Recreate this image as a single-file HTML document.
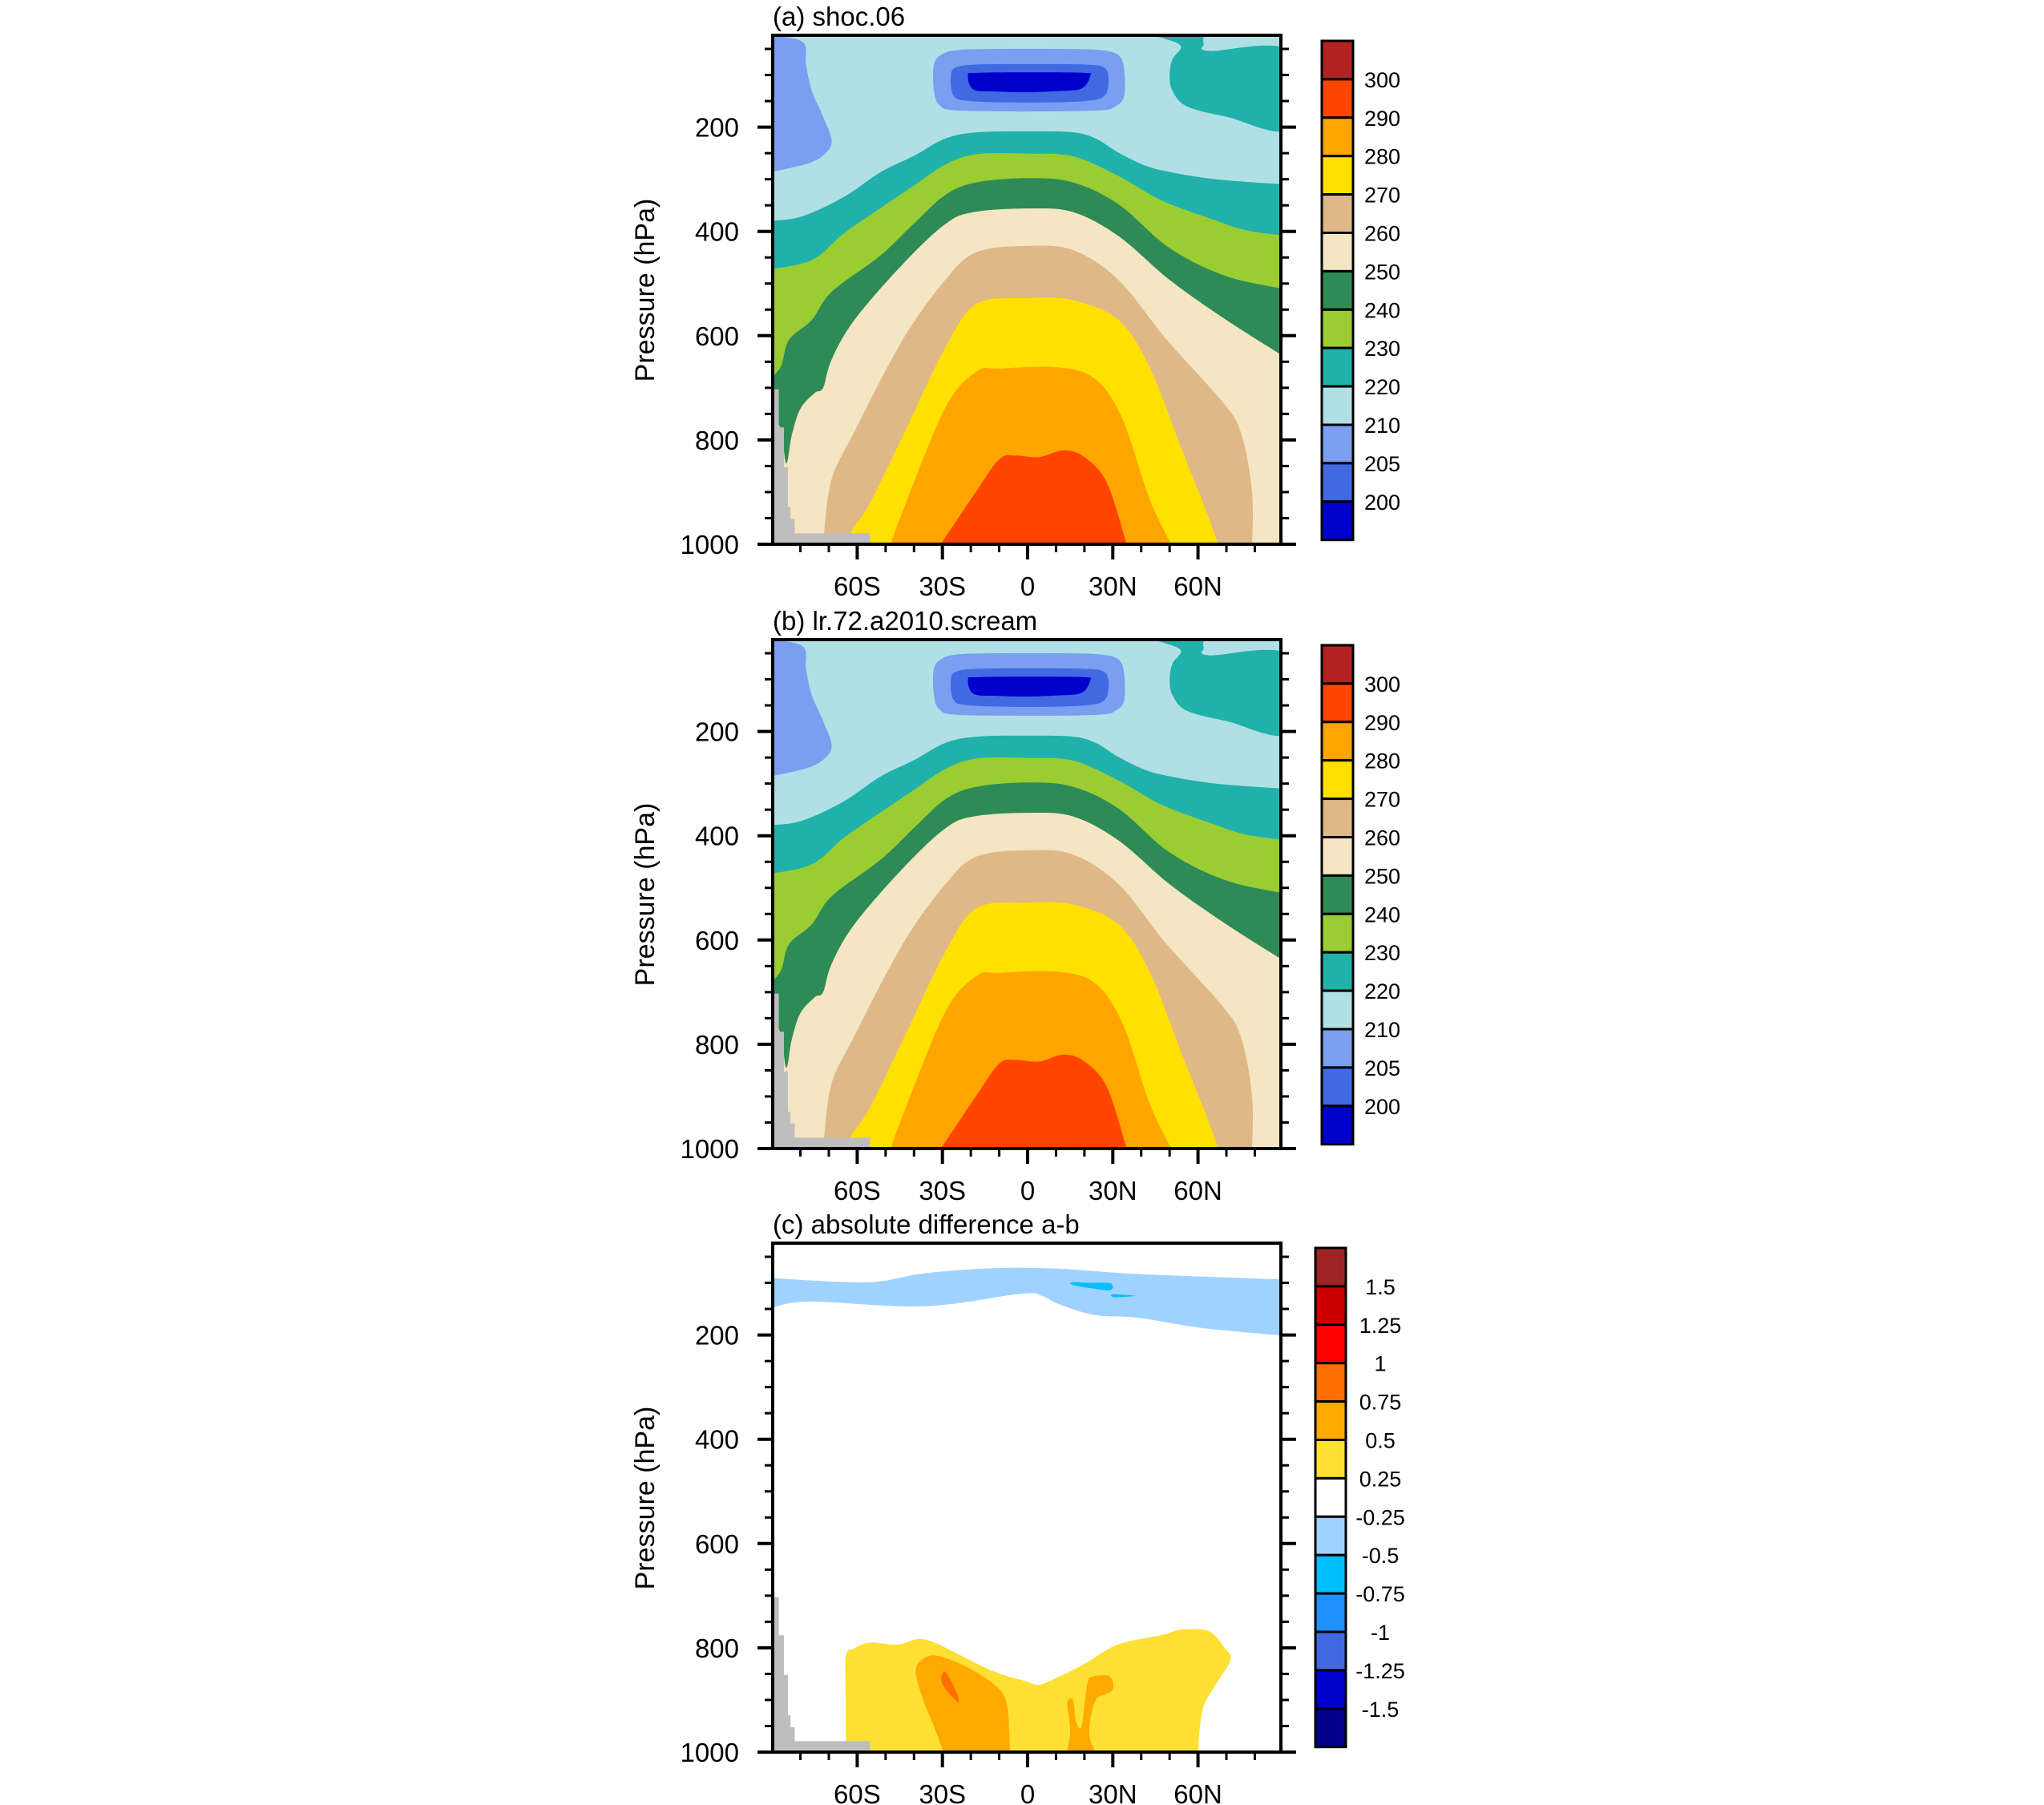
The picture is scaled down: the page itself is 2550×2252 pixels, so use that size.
<!DOCTYPE html>
<html><head><meta charset="utf-8"><style>
html,body{margin:0;padding:0;background:#fff;}
svg{display:block;font-family:"Liberation Sans",sans-serif;}
</style></head><body>
<svg id="fig" xmlns="http://www.w3.org/2000/svg" width="2550" height="2252" viewBox="0 0 2550 2252"></svg>
<script>
// ---- data (lat, pressure hPa) ----
const panelTitles = ["(a) shoc.06", "(b) lr.72.a2010.scream", "(c) absolute difference a-b"];
const yTicks = [200, 400, 600, 800, 1000];
const xTicks = [-60, -30, 0, 30, 60];
const xTickLabels = ["60S", "30S", "0", "30N", "60N"];
const tLevelsColors = ["#B22222","#FF4500","#FFA500","#FFE000","#DEB887","#F5E6C3","#2E8B57","#9ACD32","#20B2AA","#B0E0E6","#7B9EF0","#4169E1","#0000CD"];
const tLevelLabels = ["300","290","280","270","260","250","240","230","220","210","205","200"];
const dColors = ["#9E2424","#CC0000","#FF0000","#FF6E00","#FFAA00","#FDE033","#FFFFFF","#A0D2FF","#00BFFF","#1E90FF","#4169E1","#0000CD","#00008B"];
const dLabels = ["1.5","1.25","1","0.75","0.5","0.25","-0.25","-0.5","-0.75","-1","-1.25","-1.5"];

const region205L = [[-92,25],[-85,27],[-78.6,40],[-78,80],[-76,130],[-72,180],[-69,226],[-71.5,252],[-78,271],[-92,288]];
const region220R = [[41,22],[48,30],[54,45],[51,70],[50,100],[51,130],[56,160],[70,180],[92,202],[92,54],[64,54],[62,40],[62,22]];
const blob205 = [[-33,80],[-30,60],[-24,52],[-10,50],[10,50],[25,52],[32,62],[34,90],[34,140],[31,160],[25,168],[0,170],[-25,168],[-31,158],[-33,130]];
const blob200 = [[-27,100],[-25,85],[-18,80],[0,79],[20,80],[27,86],[28.5,110],[27,140],[20,150],[0,153],[-20,150],[-26,140]];
const blobCore = [[-21,100],[-18,96],[0,95],[20,96],[22,102],[19,126],[10,131],[0,133],[-10,132],[-19,128]];
const L220 = [[-92,380],[-80,372],[-65,335],[-52,287],[-40,255],[-29,222],[-18,210],[0,208],[16,210],[24,222],[32,249],[42,275],[51,287],[62,297],[70,302],[80,306],[92,310]];
const L230 = [[-92,474],[-76,455],[-65,405],[-52,356],[-40,312],[-29,272],[-18,252],[0,251],[16,256],[32,294],[47,340],[64,375],[77,398],[92,409]];
const L240 = [[-92,690],[-87,660],[-84,608],[-76,570],[-69,516],[-52,447],[-40,385],[-29,330],[-18,306],[0,298],[16,306],[32,348],[50,432],[70,486],[92,512]];
const L250 = [[-92,720],[-87,780],[-85,845],[-83,790],[-80,740],[-75,710],[-72,700],[-69,646],[-61,570],[-44,463],[-29,386],[-19,363],[0,356],[16,363],[32,409],[50,493],[70,570],[92,646]];
const L260 = [[-72,1010],[-71.6,975],[-69,875],[-61,784],[-44,608],[-29,493],[-18,440],[0,428],[16,436],[32,493],[49,608],[68,723],[75,784],[79,898],[79,1010]];
const L270 = [[-63,1010],[-62,975],[-55.5,921],[-42,770],[-29,623],[-18,539],[0,528],[16,532],[32,570],[43,661],[54,814],[64,952],[67.6,1010]];
const L280 = [[-48.8,1010],[-44,937],[-29,738],[-18,669],[-10,663],[11,661],[24,684],[33.5,761],[43,914],[51.5,1010]];
const L290 = [[-31.8,1010],[-18,898],[-10,837],[-4.4,830],[4,833],[12.7,820],[20,833],[28,883],[35.4,1010]];
const topoLat = [-90,-87.6,-85.8,-84.4,-83.5,-82,-55.5];
const topoP = [703,776,852,929,952,979];

const dBandTop = [[-92,90],[-57,99],[-36.5,82],[-12,72],[11,73],[39,83],[92,94]];
const dBandBot = [[92,202],[62,187],[39,167],[24,162],[11,141],[5,125],[-2.5,121],[-36.5,145],[-78,136],[-92,153]];
const dCyan1 = [[15.5,99],[22,100],[29.3,101],[29,114],[22,110],[16,104]];
const dCyan2 = [[29.7,122],[34,123],[38,125],[34,127],[30,127]];
const dYellow = [[-64,1010],[-64,900],[-64,816],[-61,801],[-55.5,790],[-46,794],[-38.4,783],[-32.7,790],[-27,805],[-12,845],[-0.6,864],[4,871],[10.8,856],[20.3,830],[31.6,794],[46.8,776],[54.3,765],[63.8,768],[69.5,801],[71.4,824],[65.7,875],[62,912],[60.5,960],[60,1010]];
const dOrange1 = [[-29,1010],[-33,950],[-36.5,904],[-39.4,845],[-36.5,820],[-31,816],[-19.5,842],[-10,879],[-7.2,912],[-6.5,960],[-6.2,1010]];
const dOrange2 = [[13.5,1010],[15,960],[14,905],[16,900],[17,940],[19,950],[21,870],[23,855],[29,855],[30,880],[27,890],[24,900],[22,940],[22,975],[25,1010]];
const dDarkOrange = [[-30,849],[-28.5,849],[-25,886],[-24.2,904],[-25.5,900],[-30,870]];

// ---- geometry ----
const NS = "http://www.w3.org/2000/svg";
const svg = document.getElementById("fig");
const panelOffsets = [0, 754, 1507];
const PL = 964, PR = 1598, PT = 44, PB = 679;
function X(lat){ return 1282 + lat * 3.543; }
function Y(p, off){ return off + 679 - (1000 - p) * 0.6505; }
function mk(tag, attrs, parent){
  const e = document.createElementNS(NS, tag);
  for (const k in attrs) e.setAttribute(k, attrs[k]);
  (parent || svg).appendChild(e);
  return e;
}
function toXY(arr, off){ return arr.map(a => [X(a[0]), Y(a[1], off)]); }
function smoothPath(P, closed){
  const n = P.length;
  const get = i => closed ? P[(i + n) % n] : P[Math.max(0, Math.min(n - 1, i))];
  let d = "M" + P[0][0].toFixed(1) + "," + P[0][1].toFixed(1);
  const last = closed ? n : n - 1;
  for (let i = 0; i < last; i++){
    const p0 = get(i - 1), p1 = get(i), p2 = get(i + 1), p3 = get(i + 2);
    const c1 = [p1[0] + (p2[0] - p0[0]) / 6, p1[1] + (p2[1] - p0[1]) / 6];
    const c2 = [p2[0] - (p3[0] - p1[0]) / 6, p2[1] - (p3[1] - p1[1]) / 6];
    d += " C" + c1[0].toFixed(1) + "," + c1[1].toFixed(1) + " " + c2[0].toFixed(1) + "," + c2[1].toFixed(1) + " " + p2[0].toFixed(1) + "," + p2[1].toFixed(1);
  }
  return d;
}
function fillBelow(curve, off, color, g, name){
  let d = smoothPath(toXY(curve, off), false);
  d += " L" + X(95) + "," + Y(1020, off) + " L" + X(-95) + "," + Y(1020, off) + " Z";
  const e = mk("path", {d: d, fill: color}, g);
  
  
}
function poly(arr, off, color, g, name){
  const e = mk("path", {d: smoothPath(toXY(arr, off), true) + " Z", fill: color}, g);
  
  
}
function polyOpen(arr, off, color, g, name){
  const e = mk("path", {d: smoothPath(toXY(arr, off), false) + " Z", fill: color}, g);
  
  
}
function topo(off, g){
  let d = "M" + X(-95) + "," + Y(1010, off);
  for (let i = 0; i < topoP.length; i++){
    const x0 = i === 0 ? X(-95) : X(topoLat[i]);
    d += " L" + x0 + "," + Y(topoP[i], off) + " L" + X(topoLat[i+1]) + "," + Y(topoP[i], off);
  }
  d += " L" + X(topoLat[topoLat.length-1]) + "," + Y(1010, off) + " Z";
  const e = mk("path", {d: d, fill: "#BEBEBE"}, g);
  
  
}

panelOffsets.forEach((off, pi) => {
  const cp = mk("clipPath", {id: "clip" + pi});
  mk("rect", {x: PL, y: off + PT, width: PR - PL, height: PB - PT}, cp);
  const g = mk("g", {"clip-path": "url(#clip" + pi + ")"});
  
  
  if (pi < 2){
    mk("rect", {x: PL, y: off + PT, width: PR - PL, height: PB - PT, fill: "#B0E0E6"}, g);
    polyOpen(region205L, off, "#7B9EF0", g, 'region-205-south');
    polyOpen(region220R, off, "#20B2AA", g, 'region-220-north');
    poly(blob205, off, "#7B9EF0", g, 'cold-core-205');
    poly(blob200, off, "#4169E1", g, 'cold-core-200');
    poly(blobCore, off, "#0000CD", g, 'cold-core-min');
    fillBelow(L220, off, "#20B2AA", g, 'band-220');
    fillBelow(L230, off, "#9ACD32", g, 'band-230');
    fillBelow(L240, off, "#2E8B57", g, 'band-240');
    fillBelow(L250, off, "#F5E6C3", g, 'band-250');
    fillBelow(L260, off, "#DEB887", g, 'band-260');
    fillBelow(L270, off, "#FFE000", g, 'band-270');
    fillBelow(L280, off, "#FFA500", g, 'band-280');
    fillBelow(L290, off, "#FF4500", g, 'band-290');
  } else {
    mk("rect", {x: PL, y: off + PT, width: PR - PL, height: PB - PT, fill: "#FFFFFF"}, g);
    const bd = smoothPath(toXY(dBandTop, off), false) + " L" + smoothPath(toXY(dBandBot, off), false).slice(1) + " Z";
    const band = mk("path", {d: bd, fill: "#A0D2FF"}, g);
    
    
    poly(dCyan1, off, "#00BFFF", g, 'diff-patch-cyan-1');
    poly(dCyan2, off, "#00BFFF", g, 'diff-patch-cyan-2');
    polyOpen(dYellow, off, "#FDE033", g, 'diff-region-positive');
    polyOpen(dOrange1, off, "#FFAA00", g, 'diff-region-orange-south');
    polyOpen(dOrange2, off, "#FFAA00", g, 'diff-region-orange-north');
    poly(dDarkOrange, off, "#FF6E00", g, 'diff-region-darkorange');
  }
  topo(off, g);

  const fr = mk("rect", {x: PL, y: off + PT, width: PR - PL, height: PB - PT, fill: "none", stroke: "#000", "stroke-width": 4});
  
  

  for (let p = 50; p <= 1000; p += 50){
    const major = yTicks.indexOf(p) >= 0;
    const len = major ? 19 : 10, sw = major ? 4 : 3;
    const y = Y(p, off);
    mk("line", {x1: PL - len, x2: PL, y1: y, y2: y, stroke: "#000", "stroke-width": sw});
    mk("line", {x1: PR, x2: PR + len, y1: y, y2: y, stroke: "#000", "stroke-width": sw});
  }
  yTicks.forEach(p => {
    const t = mk("text", {x: 922, y: Y(p, off) + 12, "text-anchor": "end", "font-size": 33});
    t.textContent = p;
    
    
  });
  for (let lat = -80; lat <= 80; lat += 10){
    const major = xTicks.indexOf(lat) >= 0;
    const len = major ? 19 : 10, sw = major ? 4 : 3;
    mk("line", {x1: X(lat), x2: X(lat), y1: off + PB, y2: off + PB + len, stroke: "#000", "stroke-width": sw});
  }
  xTicks.forEach((lat, i) => {
    const t = mk("text", {x: X(lat), y: off + 743, "text-anchor": "middle", "font-size": 33});
    t.textContent = xTickLabels[i];
    
    
  });
  const tt = mk("text", {x: 964, y: off + 32, "font-size": 33});
  tt.textContent = panelTitles[pi];
  
  
  const yt = mk("text", {x: 0, y: 0, "font-size": 34, "text-anchor": "middle", transform: "translate(816," + (off + 362) + ") rotate(-90)"});
  yt.textContent = "Pressure (hPa)";
  
  

  const cols = pi < 2 ? tLevelsColors : dColors;
  const labs = pi < 2 ? tLevelLabels : dLabels;
  const cx = pi < 2 ? 1649 : 1641, cw = pi < 2 ? 39 : 38;
  const cy0 = off + (pi < 2 ? 51 : 50), bh = 47.9;
  cols.forEach((c, i) => {
    const r = mk("rect", {x: cx, y: cy0 + i * bh, width: cw, height: bh, fill: c, stroke: "#000", "stroke-width": 3});
    
    
  });
  labs.forEach((l, i) => {
    const attrs = pi < 2 ? {x: 1702, y: cy0 + (i + 1) * bh + 10, "font-size": 27}
                         : {x: 1722, y: cy0 + (i + 1) * bh + 10, "font-size": 27, "text-anchor": "middle"};
    const t = mk("text", attrs);
    t.textContent = l;
    
    
  });
});
</script>
</body></html>
